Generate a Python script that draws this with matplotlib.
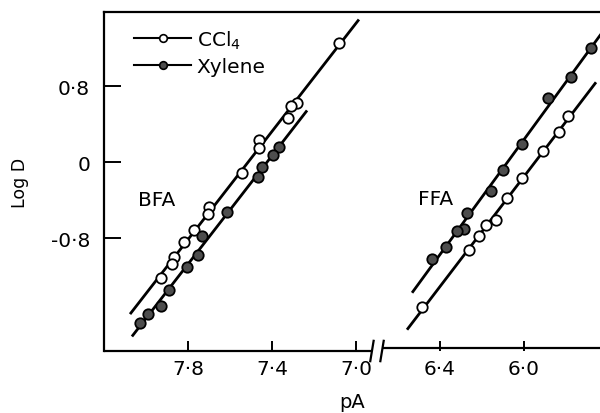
import matplotlib

matplotlib.use("Agg")
import matplotlib.pyplot as plt
import matplotlib.transforms as mtransforms
import numpy as np

# BFA (pA, log D)
bfa_ccl4_pa = [7.081, 7.281, 7.310, 7.324, 7.462, 7.462, 7.543, 7.700, 7.705,
               7.771, 7.819, 7.867, 7.876, 7.929]
bfa_ccl4_logd = [1.253, 0.621, 0.589, 0.463, 0.232, 0.147, -0.116, -0.474, -0.547,
                 -0.716, -0.842, -1.000, -1.074, -1.221]
bfa_xyl_pa = [7.367, 7.395, 7.448, 7.467, 7.614, 7.733, 7.752, 7.805, 7.890,
              7.929, 7.990, 8.029]
bfa_xyl_logd = [0.158, 0.074, -0.053, -0.158, -0.526, -0.779, -0.979, -1.105, -1.347,
                -1.516, -1.600, -1.695]

# FFA
ffa_ccl4_pa = [5.790, 5.833, 5.910, 6.010, 6.081, 6.133, 6.181, 6.214, 6.262, 6.486]
ffa_ccl4_logd = [0.484, 0.316, 0.116, -0.168, -0.379, -0.611, -0.663, -0.779, -0.926, -1.526]
ffa_xyl_pa = [5.681, 5.776, 5.886, 6.010, 6.100, 6.157, 6.271, 6.286, 6.319, 6.371, 6.438]
ffa_xyl_logd = [1.200, 0.895, 0.674, 0.189, -0.084, -0.305, -0.537, -0.705, -0.726,
                -0.895, -1.021]

# pA span of each fitted line
bfa_ccl4_span = [8.076, 6.986]
bfa_xyl_span = [8.067, 7.233]
ffa_ccl4_span = [6.557, 5.657]
ffa_xyl_span = [6.533, 5.600]

bfa_ticks = [7.8, 7.4, 7.0]
ffa_ticks = [6.4, 6.0]
y_ticks = [0.8, 0.0, -0.8]
y_ticklabels = ["0·8", "0", "-0·8"]

FFA_SHIFT = -0.2  # FFA scale starts just right of the axis break
BREAK_POS = [-6.924, -6.876]


def to_pos(pa, shift=0.0):
    return -np.asarray(pa, dtype=float) + shift


def draw_series(ax, pa, logd, span, shift, filled, label=None):
    slope, icpt = np.polyfit(pa, logd, 1)
    xs = np.array(span)
    ax.plot(to_pos(xs, shift), slope * xs + icpt, color="black", lw=2.0,
            solid_capstyle="butt", zorder=2)
    face = "#4d4d4d" if filled else "white"
    ax.plot(to_pos(pa, shift), logd, linestyle="none", marker="o", ms=7.5,
            mfc=face, mec="black", mew=1.3, zorder=3)
    if label:
        ax.plot([], [], color="black", lw=1.5, marker="o", ms=5.5, mfc=face,
                mec="black", mew=1.2, label=label)


plt.rcParams["font.family"] = ["DejaVu Sans"]
fig = plt.figure(figsize=(6.0, 4.14), dpi=100)
ax = fig.add_axes([104 / 600, 1 - 352 / 414, 1 - 104 / 600, 339 / 414])

draw_series(ax, bfa_ccl4_pa, bfa_ccl4_logd, bfa_ccl4_span, 0.0, False, "CCl$_4$")
draw_series(ax, bfa_xyl_pa, bfa_xyl_logd, bfa_xyl_span, 0.0, True, "Xylene")
draw_series(ax, ffa_ccl4_pa, ffa_ccl4_logd, ffa_ccl4_span, FFA_SHIFT, False)
draw_series(ax, ffa_xyl_pa, ffa_xyl_logd, ffa_xyl_span, FFA_SHIFT, True)

ax.set_xlim(-8.2, -5.838)
ax.set_ylim(-1.989, 1.579)

xt = list(to_pos(bfa_ticks)) + list(to_pos(ffa_ticks, FFA_SHIFT))
xl = [f"{v:.1f}".replace(".", "·") for v in bfa_ticks + ffa_ticks]
ax.set_xticks(xt)
ax.set_xticklabels(xl)
ax.set_yticks(y_ticks)
ax.set_yticklabels(y_ticklabels)
ax.tick_params(axis="x", direction="in", length=7, width=1.4, labelsize=14.5, pad=6)
ax.tick_params(axis="y", direction="in", length=12, width=1.4, labelsize=14.5, pad=10)

for side in ["right", "bottom"]:
    ax.spines[side].set_visible(False)
for side in ["left", "top"]:
    ax.spines[side].set_linewidth(1.6)

# bottom axis drawn in two pieces with break marks
trans = mtransforms.blended_transform_factory(ax.transData, ax.transAxes)
ax.plot([-8.2, BREAK_POS[0]], [0, 0], color="black", lw=1.6, transform=trans,
        clip_on=False, solid_capstyle="butt")
ax.plot([BREAK_POS[1], -5.838], [0.008, 0.008], color="black", lw=1.6,
        transform=trans, clip_on=False, solid_capstyle="butt")
for bp in BREAK_POS:
    ax.plot([bp - 0.008, bp + 0.008], [-0.03, 0.03], color="black", lw=1.6,
            transform=trans, clip_on=False)

ax.set_xlabel("pA", fontsize=14, labelpad=10)
ax.set_ylabel("Log D", fontsize=12.5, labelpad=16)

ax.text(to_pos(7.95), -0.39, "BFA", fontsize=14.5, ha="center", va="center")
ax.text(to_pos(6.42, FFA_SHIFT), -0.38, "FFA", fontsize=14.5, ha="center", va="center")

ax.legend(loc="upper left", bbox_to_anchor=(0.045, 0.975), frameon=False,
          fontsize=14.5, handlelength=2.8, handletextpad=0.3, labelspacing=0.3,
          borderaxespad=0.0)

fig.savefig("out.png", dpi=100)
